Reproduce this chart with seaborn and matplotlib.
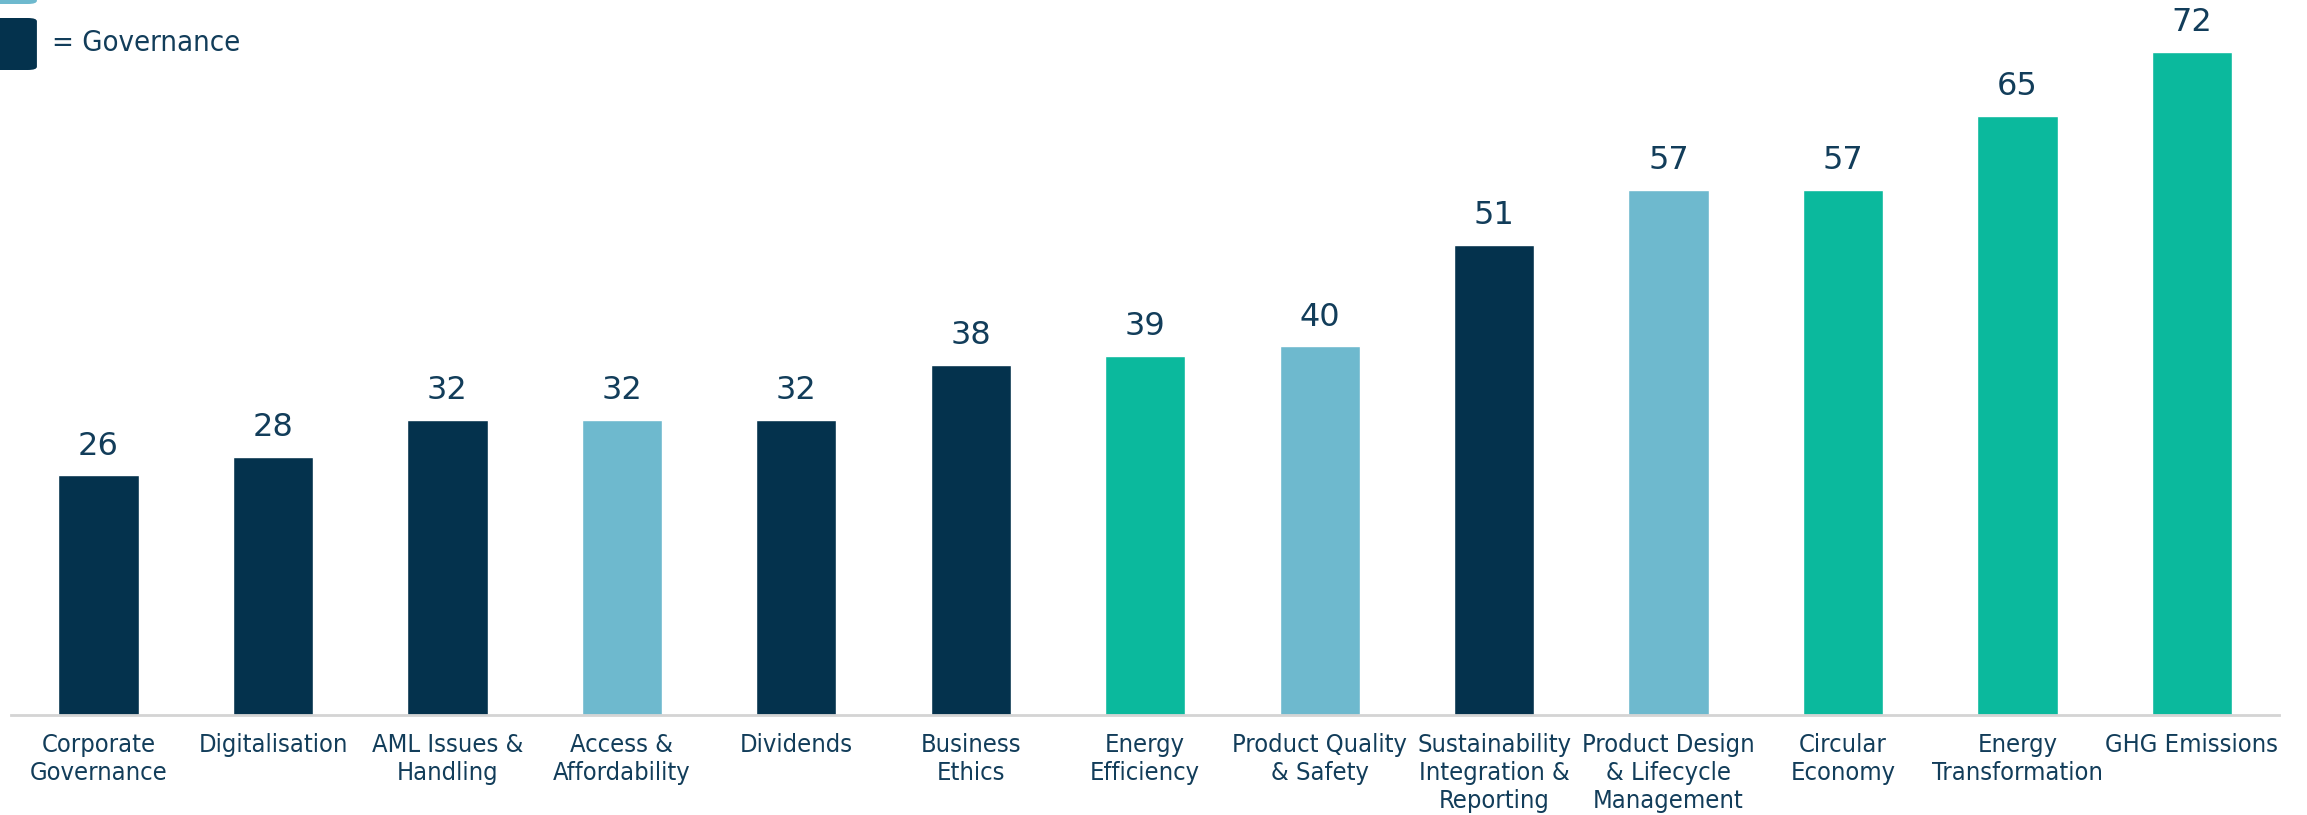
import pandas as pd
import seaborn as sns
import matplotlib.pyplot as plt
from matplotlib.patches import FancyBboxPatch

# topic, score, pillar
topics = ["Corporate\nGovernance", "Digitalisation", "AML Issues &\nHandling",
          "Access &\nAffordability", "Dividends", "Business\nEthics",
          "Energy\nEfficiency", "Product Quality\n& Safety",
          "Sustainability\nIntegration &\nReporting",
          "Product Design\n& Lifecycle\nManagement", "Circular\nEconomy",
          "Energy\nTransformation", "GHG Emissions"]
scores = [26, 28, 32, 32, 32, 38, 39, 40, 51, 57, 57, 65, 72]
pillars = ["G", "G", "G", "S", "G", "G", "E", "S", "G", "S", "E", "E", "E"]

colors = {"G": "#04324D", "S": "#6EB9CE", "E": "#0BB99D"}
txt = "#123D5A"

df = pd.DataFrame({"topic": topics, "score": scores, "pillar": pillars})

sns.set_style("white")
plt.rcParams['font.family'] = ['DejaVu Sans']
plt.rcParams['font.stretch'] = 'condensed'

fig = plt.figure(figsize=(23.07, 8.15), dpi=100)
ax = fig.add_axes([0.0049, 0.1227, 0.983, 0.848])

sns.barplot(data=df, x="topic", y="score", hue="pillar", palette=colors,
            dodge=False, legend=False, width=0.46, saturation=1, ax=ax)

for c in ax.containers:
    ax.bar_label(c, padding=10, fontsize=23, color=txt,
                 family='DejaVu Sans', fontstretch='normal', clip_on=False)

ax.set_xlim(-0.5, len(topics) - 0.5)
ax.set_ylim(0, 75)
ax.set_xlabel("")
ax.set_ylabel("")
ax.set_yticks([])
for s in ["top", "right", "left"]:
    ax.spines[s].set_visible(False)
ax.spines["bottom"].set_color("#D4D4D4")
ax.spines["bottom"].set_linewidth(2)

ax.set_xticks(range(len(topics)))
ax.set_xticklabels(topics, fontsize=18.3, color=txt, linespacing=1.2,
                   fontstretch='condensed')
ax.set_xticks([i - 0.5 for i in range(len(topics) + 1)], minor=True)
ax.tick_params(axis="x", which="major", length=0, pad=13)
ax.tick_params(axis="x", which="minor", length=12, width=2,
               color="#D4D4D4", direction="out")

# legend swatches (cropped at top of the picture)
fig.patches.append(FancyBboxPatch((-0.01, 1 - 4 / 815), 0.026, 60 / 815,
                                  boxstyle="round,pad=0,rounding_size=0.004",
                                  transform=fig.transFigure,
                                  facecolor=colors["S"], edgecolor="none"))
fig.patches.append(FancyBboxPatch((-0.01, 1 - 70 / 815), 0.026, 52 / 815,
                                  boxstyle="round,pad=0,rounding_size=0.004",
                                  transform=fig.transFigure,
                                  facecolor=colors["G"], edgecolor="none"))
fig.text(52 / 2307, 1 - 43 / 815, "= Governance", fontsize=21, color=txt,
         va="center", ha="left", family=['DejaVu Sans'], fontstretch='condensed')

plt.savefig("out.png", dpi=100)
